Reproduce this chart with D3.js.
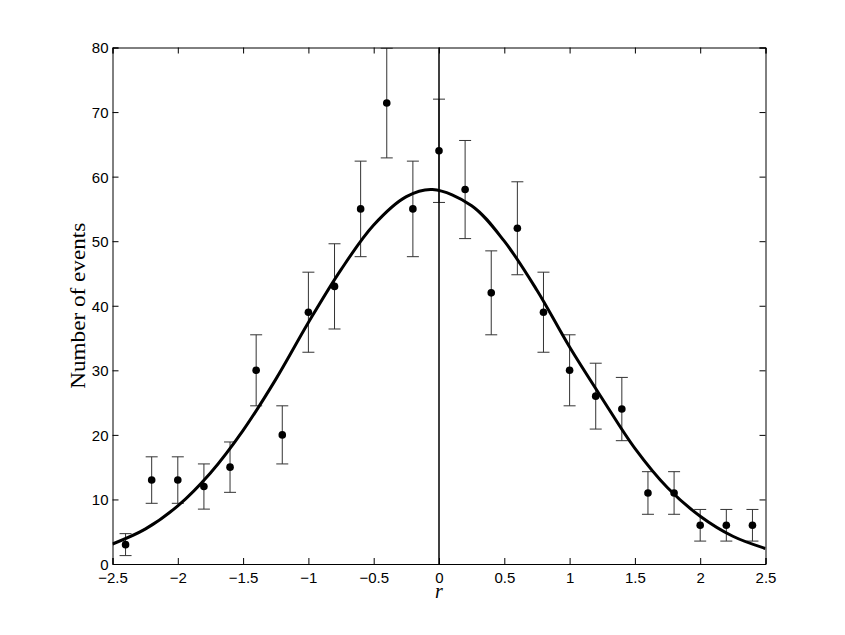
<!DOCTYPE html>
<html>
<head>
<meta charset="utf-8">
<script src="https://cdn.jsdelivr.net/npm/d3@7"></script>
<style>
  body { margin: 0; background: #fff; }
  svg { display: block; }
</style>
</head>
<body>
<div id="chart"></div>
<script>
// measured bins (r) and event counts with their error bars
const rValues = [-2.4, -2.2, -2.0, -1.8, -1.6, -1.4, -1.2, -1.0, -0.8, -0.6, -0.4, -0.2, 0.0,
                 0.2, 0.4, 0.6, 0.8, 1.0, 1.2, 1.4, 1.6, 1.8, 2.0, 2.2, 2.4];
const counts = [3, 13, 13, 12, 15, 30, 20, 39, 43, 55, 71.4, 55, 64,
                58, 42, 52, 39, 30, 26, 24, 11, 11, 6, 6, 6];
const errors = [1.7, 3.6, 3.6, 3.5, 3.9, 5.5, 4.5, 6.2, 6.6, 7.4, 8.5, 7.4, 8,
                7.6, 6.5, 7.2, 6.2, 5.5, 5.1, 4.9, 3.3, 3.3, 2.45, 2.45, 2.45];

// fitted curve
const fitX = [-2.5, -2.25, -2.0, -1.75, -1.5, -1.25, -1.0, -0.75, -0.5, -0.25, -0.05,
              0.25, 0.5, 0.75, 1.0, 1.25, 1.5, 1.75, 2.0, 2.25, 2.5];
const fitY = [3.1, 5.4, 9.0, 14.1, 20.7, 28.6, 37.4, 45.6, 52.5, 56.9, 58.0,
              55.5, 50.0, 42.4, 33.6, 25.6, 17.9, 11.8, 7.4, 4.3, 2.4];

const xTicks = [-2.5, -2, -1.5, -1, -0.5, 0, 0.5, 1, 1.5, 2, 2.5];
const yTicks = [0, 10, 20, 30, 40, 50, 60, 70, 80];

const margin = {top: 47.5, right: 79.5, bottom: 71, left: 112.5};
const width = 845 - margin.left - margin.right;
const height = 635 - margin.top - margin.bottom;

const svg = d3.select("#chart").append("svg")
  .attr("width", 845)
  .attr("height", 635);

svg.append("rect").attr("width", 845).attr("height", 635).attr("fill", "#fff");

const g = svg.append("g")
  .attr("transform", `translate(${margin.left},${margin.top})`);

const x = d3.scaleLinear().domain([-2.5, 2.5]).range([0, width]);
const y = d3.scaleLinear().domain([0, 80]).range([height, 0]);

g.append("clipPath").attr("id", "plotClip")
  .append("rect").attr("width", width).attr("height", height);

const plot = g.append("g").attr("clip-path", "url(#plotClip)");

const pts = rValues.map((r, i) => ({r: r, n: counts[i], e: errors[i]}));

// error bars
const bars = plot.append("g")
  .attr("stroke", "#333")
  .attr("stroke-width", 1)
  .selectAll("g")
  .data(pts)
  .join("g");

bars.append("line")
  .attr("x1", d => x(d.r)).attr("x2", d => x(d.r))
  .attr("y1", d => y(d.n - d.e)).attr("y2", d => y(d.n + d.e));
bars.append("line")
  .attr("x1", d => x(d.r) - 6).attr("x2", d => x(d.r) + 6)
  .attr("y1", d => y(d.n - d.e)).attr("y2", d => y(d.n - d.e));
bars.append("line")
  .attr("x1", d => x(d.r) - 6).attr("x2", d => x(d.r) + 6)
  .attr("y1", d => y(d.n + d.e)).attr("y2", d => y(d.n + d.e));

// data points
plot.append("g")
  .attr("fill", "#000")
  .selectAll("circle")
  .data(pts)
  .join("circle")
    .attr("cx", d => x(d.r))
    .attr("cy", d => y(d.n))
    .attr("r", 3.8);

// fit curve
const line = d3.line()
  .x((d, i) => x(fitX[i]))
  .y(d => y(d))
  .curve(d3.curveCatmullRom.alpha(0.5));

plot.append("path")
  .datum(fitY)
  .attr("fill", "none")
  .attr("stroke", "#000")
  .attr("stroke-width", 3)
  .attr("d", line);

// vertical line at r = 0
g.append("line")
  .attr("x1", x(0)).attr("x2", x(0))
  .attr("y1", 0).attr("y2", height)
  .attr("stroke", "#000")
  .attr("stroke-width", 1.5);

// axes, ticks pointing inward like matlab
const fmt = d3.format("");

const xAxis = g.append("g")
  .attr("transform", `translate(0,${height})`)
  .call(d3.axisBottom(x).tickValues(xTicks).tickFormat(fmt).tickSize(-6).tickPadding(8));
xAxis.selectAll("text").attr("dy", null).attr("y", 18.5);

g.append("g")
  .call(d3.axisTop(x).tickValues(xTicks).tickFormat("").tickSize(-6));

const yAxis = g.append("g")
  .call(d3.axisLeft(y).tickValues(yTicks).tickFormat(fmt).tickSize(-6).tickPadding(4));
yAxis.selectAll("text").attr("dy", "0.36em");

g.append("g")
  .attr("transform", `translate(${width},0)`)
  .call(d3.axisRight(y).tickValues(yTicks).tickFormat("").tickSize(-6));

g.selectAll(".tick text")
  .attr("font-family", "'Liberation Sans', Arial, sans-serif")
  .attr("font-size", 15)
  .attr("fill", "#000");
g.selectAll(".tick line").attr("stroke", "#000");
g.selectAll(".domain").attr("stroke", "#000");

// axis titles
g.append("text")
  .attr("x", x(0))
  .attr("y", height + 34)
  .attr("text-anchor", "middle")
  .attr("font-family", "'Liberation Serif', 'DejaVu Serif', serif")
  .attr("font-style", "italic")
  .attr("font-size", 20)
  .text("r");

g.append("text")
  .attr("transform", `translate(${85 - margin.left},${height / 2}) rotate(-90)`)
  .attr("text-anchor", "middle")
  .attr("font-family", "'Liberation Serif', 'DejaVu Serif', serif")
  .attr("font-size", 21)
  .attr("textLength", 166)
  .attr("lengthAdjust", "spacingAndGlyphs")
  .text("Number of events");
</script>
</body>
</html>
